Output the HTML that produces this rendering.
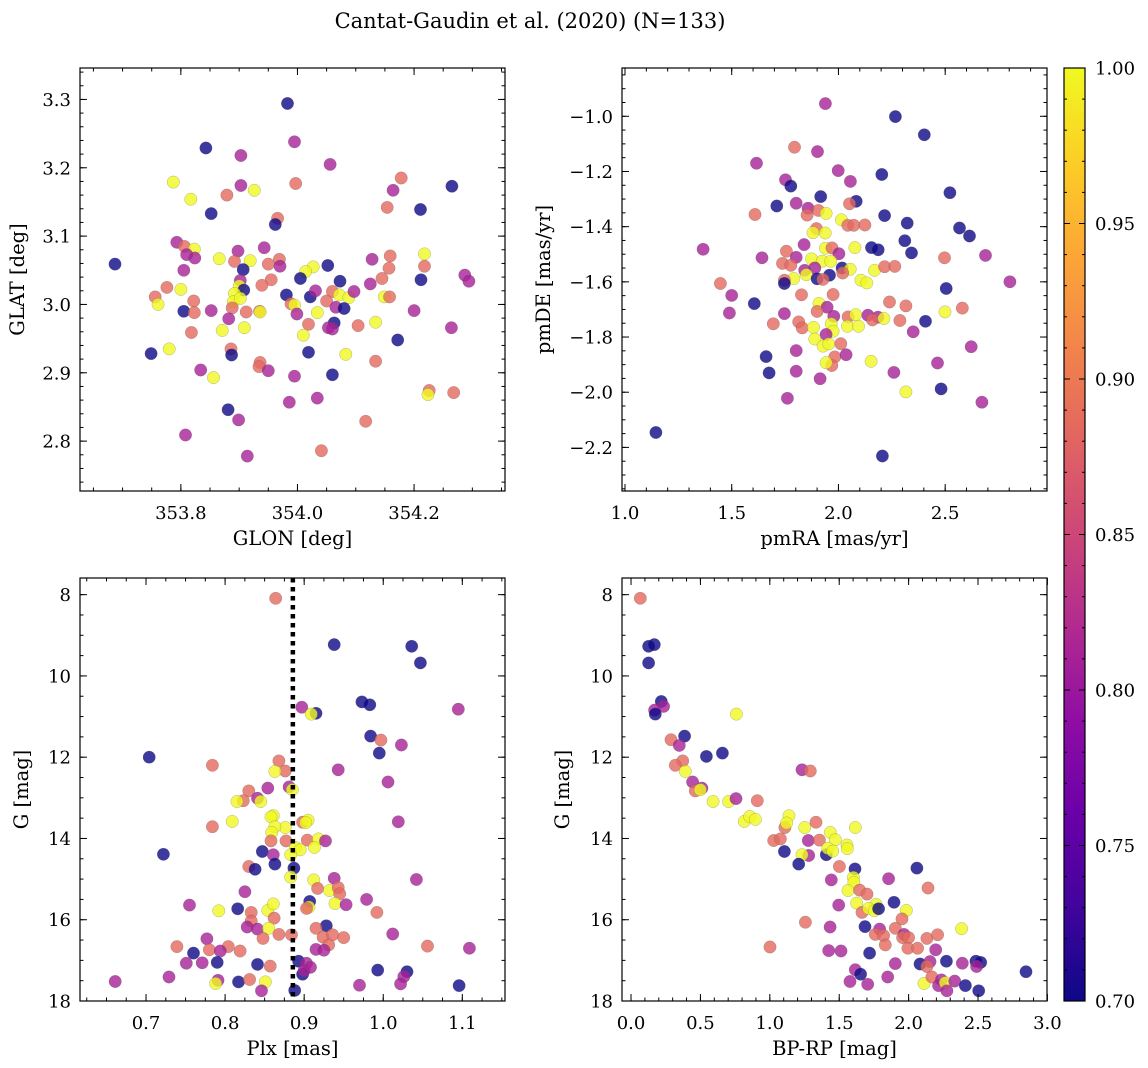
<!DOCTYPE html>
<html><head><meta charset="utf-8">
<style>
html,body{margin:0;padding:0;background:#fff;}
svg{display:block;font-family:"DejaVu Serif","Liberation Serif",serif;}
</style></head>
<body>
<svg id="fig" width="1148" height="1068" viewBox="0 0 1148 1068" xmlns="http://www.w3.org/2000/svg">
<text x="530" y="28" font-size="21" text-anchor="middle">Cantat-Gaudin et al. (2020) (N=133)</text>
<defs>
<linearGradient id="plasmaGrad" x1="0" y1="1" x2="0" y2="0">
<stop offset="0" stop-color="#0d0887"/><stop offset="0.1" stop-color="#41049d"/><stop offset="0.2" stop-color="#6a00a8"/><stop offset="0.3" stop-color="#8f0da4"/><stop offset="0.4" stop-color="#b12a90"/><stop offset="0.5" stop-color="#cc4778"/><stop offset="0.6" stop-color="#e16462"/><stop offset="0.7" stop-color="#f2844b"/><stop offset="0.8" stop-color="#fca636"/><stop offset="0.9" stop-color="#fcce25"/><stop offset="1" stop-color="#f0f921"/>
</linearGradient>
</defs>
</svg>
<script>
// ---- Panel 1: GLON / GLAT ----
const glon=[353.687,353.983,353.995,353.843,353.903,354.056,353.787,353.903,353.926,353.997,354.178,354.164,354.265,353.817,353.879,353.852,354.154,354.211,353.966,353.962,353.793,353.806,353.823,353.810,353.824,353.866,353.898,353.943,353.892,353.919,353.969,353.950,353.970,353.907,354.052,354.027,354.014,354.005,354.128,354.159,354.218,354.157,354.218,353.805,353.776,353.800,353.756,353.761,353.955,353.939,353.902,353.900,353.908,353.892,353.890,353.902,353.888,353.981,354.022,354.031,354.073,354.060,354.072,354.088,354.097,354.125,354.145,354.149,354.158,354.212,354.287,354.294,354.050,354.066,354.080,353.822,353.805,353.823,353.852,353.912,353.935,353.936,353.989,353.995,353.999,354.034,353.882,353.871,353.909,353.818,353.780,353.749,353.886,353.887,354.019,354.010,354.063,354.053,354.060,354.104,354.134,354.200,354.264,354.172,354.019,354.083,354.134,353.936,353.934,353.950,353.834,353.856,353.995,354.060,354.226,354.224,354.268,353.986,354.034,353.881,353.899,354.117,353.808,354.041,353.914];
const glat=[3.059,3.294,3.238,3.229,3.218,3.205,3.179,3.174,3.167,3.177,3.185,3.167,3.173,3.154,3.160,3.133,3.142,3.139,3.126,3.117,3.091,3.085,3.081,3.073,3.068,3.067,3.078,3.083,3.063,3.064,3.066,3.059,3.056,3.051,3.057,3.055,3.048,3.038,3.066,3.071,3.074,3.053,3.056,3.050,3.025,3.022,3.011,3.000,3.036,3.028,3.035,3.027,3.021,3.016,3.004,3.009,2.995,3.014,3.011,3.020,3.034,3.019,3.014,3.010,3.019,3.030,3.038,3.011,3.011,3.036,3.043,3.034,3.005,2.996,2.994,3.005,2.990,2.988,2.991,2.989,2.990,2.989,3.001,2.999,2.986,2.988,2.979,2.962,2.966,2.959,2.935,2.928,2.935,2.926,2.971,2.955,2.973,2.966,2.964,2.969,2.974,2.991,2.966,2.948,2.930,2.927,2.917,2.915,2.909,2.903,2.904,2.893,2.895,2.897,2.874,2.868,2.871,2.857,2.863,2.846,2.831,2.829,2.809,2.786,2.778];
const prob1=[0.70,0.70,0.81,0.70,0.81,0.81,1.00,0.81,1.00,0.885, 0.885,0.81,0.70,1.00,0.885,0.70,0.885,0.70,0.885,0.70, 0.81,0.885,1.00,0.81,0.81,1.00,0.81,0.81,0.885,1.00, 0.885,0.885,0.81,0.70,0.70,1.00,1.00,0.70,0.81,0.885, 1.00,0.885,0.885,0.81,0.885,1.00,0.885,1.00,0.885,0.885, 0.81,1.00,0.70,1.00,1.00,1.00,0.885,0.70,0.70,0.81, 0.70,0.885,1.00,1.00,0.81,0.81,0.885,1.00,0.885,0.70, 0.81,0.81,0.885,0.81,0.70,0.885,0.70,0.885,0.81,0.885, 0.885,1.00,0.885,1.00,0.81,1.00,0.81,1.00,1.00,0.885, 1.00,0.70,0.885,0.70,0.885,1.00,0.70,0.81,0.81,0.885, 1.00,0.81,0.81,0.70,0.70,1.00,0.885,0.885,0.885,0.81, 0.81,1.00,0.81,0.70,0.885,1.00,0.885,0.81,0.81,0.70, 0.81,0.885,0.81,0.885,0.81];
// ---- Panel 2: pmRA / pmDE ----
const pmra=[1.939,2.267,2.402,1.794,1.902,1.616,1.999,2.203,1.752,1.777,2.056,2.522,1.917,1.711,1.802,2.083,2.052,1.858,1.906,1.942,1.853,1.609,2.216,2.014,2.044,2.072,2.124,2.322,2.567,2.614,1.897,1.881,1.938,2.311,1.839,1.939,1.970,2.077,2.155,2.186,2.342,1.366,1.642,1.756,1.802,2.002,2.497,2.689,1.874,1.924,1.964,1.738,1.777,1.889,1.842,2.017,2.055,2.169,2.216,2.264,1.850,1.958,1.791,1.747,1.747,1.900,1.927,2.020,2.105,2.133,1.447,2.803,2.505,1.827,1.975,1.500,1.606,1.909,1.947,1.900,2.239,2.316,2.499,2.580,1.489,1.747,1.978,2.045,2.081,2.138,2.185,2.159,2.213,2.288,2.408,1.814,1.695,1.830,1.883,1.966,1.975,2.042,2.094,2.350,1.942,1.889,1.928,1.955,2.011,2.622,1.802,1.661,1.983,2.036,1.969,1.942,2.153,2.464,1.675,1.802,2.260,1.914,2.481,2.316,1.761,2.672,1.145,2.206];
const pmde=[-0.954,-1.001,-1.067,-1.112,-1.128,-1.170,-1.197,-1.211,-1.230,-1.253,-1.236,-1.277,-1.291,-1.325,-1.315,-1.308,-1.317,-1.333,-1.341,-1.352,-1.358,-1.356,-1.360,-1.375,-1.395,-1.395,-1.394,-1.387,-1.405,-1.434,-1.407,-1.422,-1.423,-1.451,-1.465,-1.478,-1.477,-1.476,-1.476,-1.484,-1.495,-1.482,-1.513,-1.489,-1.511,-1.498,-1.513,-1.504,-1.517,-1.525,-1.525,-1.533,-1.540,-1.550,-1.558,-1.550,-1.554,-1.558,-1.545,-1.544,-1.574,-1.576,-1.588,-1.594,-1.606,-1.589,-1.591,-1.568,-1.594,-1.604,-1.606,-1.600,-1.624,-1.647,-1.646,-1.649,-1.679,-1.678,-1.692,-1.707,-1.673,-1.687,-1.709,-1.695,-1.713,-1.715,-1.725,-1.727,-1.719,-1.721,-1.728,-1.738,-1.733,-1.740,-1.743,-1.745,-1.752,-1.767,-1.765,-1.752,-1.779,-1.761,-1.761,-1.781,-1.791,-1.807,-1.833,-1.825,-1.824,-1.835,-1.849,-1.871,-1.872,-1.864,-1.903,-1.893,-1.888,-1.894,-1.930,-1.924,-1.928,-1.951,-1.988,-1.999,-2.022,-2.036,-2.146,-2.231];
const prob2=[0.81,0.70,0.70,0.885,0.81,0.81,0.81,0.70,0.81,0.70, 0.81,0.70,0.70,0.70,0.81,0.70,0.885,0.81,0.885,1.00, 0.885,0.885,0.70,1.00,0.885,0.885,0.885,0.70,0.70,0.70, 0.885,1.00,1.00,0.70,0.81,1.00,0.885,1.00,0.70,0.70, 0.70,0.81,0.81,0.885,0.81,0.81,0.885,0.81,1.00,1.00, 1.00,0.885,0.885,0.81,0.81,0.70,1.00,1.00,0.885,0.885, 1.00,0.70,1.00,0.885,0.70,0.70,0.885,0.885,1.00,1.00, 0.885,0.81,0.70,0.885,0.885,0.81,0.70,1.00,0.81,0.885, 0.885,0.885,1.00,0.885,0.81,0.81,0.81,0.885,1.00,0.81, 0.81,0.885,1.00,0.885,0.70,0.885,0.885,0.885,1.00,1.00, 1.00,1.00,1.00,0.81,0.81,1.00,1.00,1.00,0.885,0.81, 0.81,0.70,0.885,0.81,0.885,1.00,1.00,0.81,0.70,0.81, 0.81,0.81,0.70,1.00,0.81,0.81,0.70,0.70];
// ---- Panel 3: Plx / G ----
const plx=[0.864,0.938,1.036,1.047,0.973,0.983,0.897,0.915,0.909,1.095,0.984,0.997,1.023,0.995,0.704,0.784,0.868,0.876,0.863,0.943,1.006,0.854,0.881,0.885,0.830,0.823,0.815,0.841,0.845,0.861,0.858,0.809,0.784,0.876,0.898,0.905,0.902,1.019,0.863,0.859,0.858,0.877,0.904,0.918,0.927,0.889,0.895,0.913,0.883,0.847,0.861,0.722,0.863,0.830,0.838,0.887,0.883,0.938,0.912,1.042,0.917,0.932,0.943,0.945,0.825,0.979,0.755,0.907,0.906,0.903,0.939,0.953,0.992,0.792,0.816,0.854,0.862,0.861,0.833,0.833,0.928,0.915,0.828,0.841,0.855,0.868,0.884,0.848,0.924,0.936,0.950,0.931,1.012,0.777,0.739,0.804,0.780,0.794,0.819,0.915,0.925,1.056,1.109,0.760,0.751,0.771,0.790,0.841,0.857,0.893,0.903,0.908,0.898,0.900,0.993,1.030,1.026,0.661,0.729,0.791,0.788,0.817,0.831,0.851,0.846,0.888,0.970,1.022,1.096];
const gmag3=[8.09,9.23,9.27,9.68,10.64,10.71,10.77,10.92,10.94,10.82,11.48,11.58,11.70,11.90,12.00,12.20,12.09,12.34,12.35,12.31,12.61,12.76,12.73,12.80,12.83,13.07,13.09,13.01,13.09,13.44,13.47,13.58,13.71,13.73,13.60,13.55,13.61,13.59,13.71,13.85,14.06,14.06,14.04,14.01,14.06,14.22,14.28,14.22,14.40,14.32,14.40,14.39,14.63,14.69,14.76,14.73,14.95,14.98,15.02,15.01,15.23,15.28,15.21,15.36,15.31,15.50,15.64,15.55,15.69,15.72,15.60,15.63,15.82,15.78,15.73,15.77,15.96,15.61,15.82,16.03,16.15,16.21,16.18,16.23,16.21,16.36,16.37,16.46,16.43,16.37,16.44,16.62,16.35,16.47,16.66,16.66,16.74,16.77,16.77,16.73,16.75,16.65,16.70,16.82,17.07,17.06,17.05,17.10,17.14,17.02,17.07,17.17,17.34,17.25,17.24,17.28,17.40,17.52,17.41,17.49,17.57,17.53,17.47,17.53,17.75,17.74,17.61,17.58,17.62];
const prob3=[0.885,0.70,0.70,0.70,0.70,0.70,0.81,0.70,1.00,0.81, 0.70,0.885,0.81,0.70,0.70,0.885,0.885,0.885,1.00,0.81, 0.81,0.81,0.81,1.00,0.885,0.885,1.00,0.81,1.00,1.00, 1.00,1.00,0.885,1.00,0.885,1.00,1.00,0.81,1.00,1.00, 0.885,0.885,0.885,1.00,0.81,1.00,1.00,1.00,1.00,0.70, 0.81,0.70,0.70,0.885,0.70,0.70,1.00,0.81,1.00,0.81, 0.885,1.00,0.885,0.885,0.81,0.81,0.81,0.70,1.00,0.885, 1.00,0.81,0.885,1.00,0.70,1.00,0.885,1.00,0.885,0.885, 0.70,0.885,0.81,0.81,1.00,0.885,0.885,0.885,0.885,0.885, 0.885,0.885,0.81,0.81,0.885,0.885,0.885,0.81,0.885,0.81, 0.81,0.885,0.81,0.70,0.81,0.81,0.70,0.70,0.885,0.70, 0.81,0.81,0.70,0.81,0.70,0.70,0.81,0.81,0.81,0.81, 1.00,0.70,0.885,1.00,0.81,0.70,0.81,0.81,0.70];
// ---- Panel 4: BP-RP / G ----
const bprp=[0.067,0.127,0.168,0.127,0.218,0.235,0.170,0.175,0.759,0.386,0.288,0.348,0.543,0.658,0.372,0.319,0.391,0.444,1.232,1.292,0.511,0.463,0.499,0.591,0.703,0.756,0.910,0.816,0.855,0.896,1.138,1.109,1.121,1.251,1.333,1.616,1.436,1.472,1.028,1.076,1.277,1.357,1.407,1.417,1.453,1.556,1.558,1.105,1.280,1.232,1.208,1.501,1.614,2.060,1.443,1.602,1.606,1.856,2.140,1.563,1.647,1.700,1.496,1.626,1.664,1.765,1.712,1.753,1.784,1.895,1.983,1.952,1.256,1.434,1.686,1.791,1.904,1.760,1.820,1.967,1.957,2.000,2.132,2.209,2.382,1.832,1.001,1.424,1.513,1.719,1.995,2.065,2.195,1.904,2.082,2.154,2.132,2.272,2.387,2.485,2.519,2.490,2.846,1.616,1.654,1.578,1.705,1.849,2.111,2.168,2.236,2.216,2.264,2.276,2.332,2.409,2.505];
const gmag4=[8.09,9.27,9.23,9.68,10.63,10.75,10.84,10.94,10.94,11.48,11.57,11.71,11.98,11.90,12.09,12.20,12.35,12.61,12.31,12.34,12.76,12.83,12.80,13.09,13.09,13.02,13.07,13.58,13.46,13.53,13.44,13.73,13.62,13.73,13.60,13.73,13.85,14.03,14.05,14.01,14.05,14.04,14.40,14.24,14.31,14.16,14.25,14.32,14.42,14.40,14.63,14.69,14.75,14.73,15.02,14.96,15.08,14.99,15.22,15.28,15.27,15.37,15.64,15.59,15.82,15.62,15.72,15.78,15.73,15.57,15.77,15.98,16.06,16.18,16.17,16.23,16.21,16.36,16.39,16.36,16.44,16.44,16.46,16.37,16.22,16.62,16.67,16.76,16.77,16.82,16.70,16.70,16.74,17.08,17.09,17.03,17.15,17.02,17.07,17.02,17.05,17.15,17.28,17.23,17.34,17.52,17.59,17.41,17.57,17.41,17.48,17.62,17.55,17.75,17.51,17.62,17.75];
const prob4=[0.885,0.70,0.70,0.70,0.70,0.81,0.81,0.70,1.00,0.70, 0.885,0.81,0.70,0.70,0.885,0.885,1.00,0.81,0.81,0.885, 0.81,0.885,1.00,1.00,1.00,0.81,0.885,1.00,1.00,1.00, 1.00,0.885,1.00,1.00,0.885,1.00,1.00,1.00,0.885,0.885, 0.81,0.885,0.70,1.00,1.00,1.00,1.00,0.70,0.81,1.00, 0.70,0.885,0.70,0.70,0.81,1.00,1.00,0.81,0.885,1.00, 0.885,0.885,0.81,1.00,0.885,1.00,1.00,1.00,0.70,0.70, 1.00,0.885,0.885,0.81,0.70,0.81,0.885,0.885,0.885,0.81, 0.885,0.885,0.885,0.885,1.00,0.885,0.885,0.81,0.81,0.70, 0.885,0.885,0.81,0.81,0.70,0.81,0.885,0.70,0.81,0.70, 0.70,0.81,0.70,0.81,0.70,0.81,0.81,0.81,1.00,0.885, 0.81,0.81,1.00,0.81,0.81,0.70,0.70];
const plxCut=[0.8857];
const cbarTicks=[0.70,0.75,0.80,0.85,0.90,0.95,1.00];

const NS="http://www.w3.org/2000/svg";
const svg=document.getElementById('fig');
const stops=[[13,8,135],[65,4,157],[106,0,168],[143,13,164],[177,42,144],[204,71,120],[225,100,98],[242,132,75],[252,166,54],[252,206,37],[240,249,33]];
function cmap(p){let t=Math.max(0,Math.min(1,(p-0.7)/0.3))*10;let i=Math.min(9,Math.floor(t));let f=t-i;
 const a=stops[i],b=stops[i+1];return 'rgb('+a.map((v,k)=>Math.round(v+(b[k]-v)*f)).join(',')+')';}
function mk(tag,attrs,parent){const e=document.createElementNS(NS,tag);for(const k in attrs)e.setAttribute(k,attrs[k]);(parent||svg).appendChild(e);return e;}
function fmt(v,d){const s=Math.abs(v).toFixed(d);return (v<-1e-9?'\u2212':'')+s;}

function panel(cfg){
 const g=mk('g',{});
 
 
 const sx=v=>cfg.x0+(v-cfg.xmin)/(cfg.xmax-cfg.xmin)*cfg.w;
 const sy=cfg.yinv?(v=>cfg.y0+(v-cfg.ymin)/(cfg.ymax-cfg.ymin)*cfg.h):(v=>cfg.y0+cfg.h-(v-cfg.ymin)/(cfg.ymax-cfg.ymin)*cfg.h);
 const lo=Math.min(cfg.ymin,cfg.ymax),hi=Math.max(cfg.ymin,cfg.ymax);
 const pts=mk('g',{},g);
 
 
 for(let i=0;i<cfg.xs.length;i++){
  const c=mk('circle',{cx:sx(cfg.xs[i]).toFixed(1),cy:sy(cfg.ys[i]).toFixed(1),r:6.2,fill:cmap(cfg.cs[i]),'fill-opacity':0.8,stroke:'#555','stroke-width':0.35,'stroke-opacity':0.6},pts);
  
  
 }
 if(cfg.extra)cfg.extra(g,sx,sy);
 const fr=mk('rect',{x:cfg.x0,y:cfg.y0,width:cfg.w,height:cfg.h,fill:'none',stroke:'#000','stroke-width':1.2},g);
 
 
 const tk=mk('g',{stroke:'#000','stroke-width':1},g);
 
 
 const B=cfg.y0+cfg.h,R=cfg.x0+cfg.w;
 for(let v=Math.ceil(cfg.xmin/cfg.xminor-1e-6)*cfg.xminor;v<=cfg.xmax+1e-9;v+=cfg.xminor){const x=sx(v);
  mk('line',{x1:x,y1:B,x2:x,y2:B-3.5},tk);mk('line',{x1:x,y1:cfg.y0,x2:x,y2:cfg.y0+3.5},tk);}
 for(let v=Math.ceil(lo/cfg.yminor-1e-6)*cfg.yminor;v<=hi+1e-9;v+=cfg.yminor){const y=sy(v);
  mk('line',{x1:cfg.x0,y1:y,x2:cfg.x0+3.5,y2:y},tk);mk('line',{x1:R,y1:y,x2:R-3.5,y2:y},tk);}
 cfg.xt.forEach(v=>{const x=sx(v);
  mk('line',{x1:x,y1:B,x2:x,y2:B-7},tk);mk('line',{x1:x,y1:cfg.y0,x2:x,y2:cfg.y0+7},tk);
  const t=mk('text',{x:x,y:B+28,'font-size':18,'text-anchor':'middle'},g);t.textContent=fmt(v,cfg.xd);
  
  });
 cfg.yt.forEach(v=>{const y=sy(v);
  mk('line',{x1:cfg.x0,y1:y,x2:cfg.x0+7,y2:y},tk);mk('line',{x1:R,y1:y,x2:R-7,y2:y},tk);
  const t=mk('text',{x:cfg.x0-9,y:y+6.5,'font-size':18,'text-anchor':'end'},g);t.textContent=fmt(v,cfg.yd);
  
  });
 const xl=mk('text',{x:cfg.x0+cfg.w/2,y:B+54,'font-size':19.5,'text-anchor':'middle'},g);xl.textContent=cfg.xlabel;
 
 
 const yx=cfg.ylx,yc=cfg.y0+cfg.h/2;
 const yl=mk('text',{x:yx,y:yc,'font-size':19.5,'text-anchor':'middle',transform:'rotate(-90 '+yx+' '+yc+')'},g);yl.textContent=cfg.ylabel;
 
 
}
function range(a,b,s){const r=[];for(let v=a;v<=b+1e-9;v+=s)r.push(Math.round(v*1000)/1000);return r;}

panel({name:'glon-glat-panel',x0:80,y0:68,w:425,h:423,xmin:353.627,xmax:354.356,ymin:2.727,ymax:3.346,xs:glon,ys:glat,cs:prob1,
 xt:[353.8,354.0,354.2],xd:1,xminor:0.05,yt:range(2.8,3.3,0.1),yd:1,yminor:0.02,xlabel:'GLON [deg]',ylabel:'GLAT [deg]',ylx:24});
panel({name:'proper-motion-panel',x0:622,y0:68,w:425,h:423,xmin:0.986,xmax:2.977,ymin:-2.358,ymax:-0.825,xs:pmra,ys:pmde,cs:prob2,
 xt:[1.0,1.5,2.0,2.5],xd:1,xminor:0.1,yt:range(-2.2,-1.0,0.2),yd:1,yminor:0.05,xlabel:'pmRA [mas/yr]',ylabel:'pmDE [mas/yr]',ylx:550});
panel({name:'parallax-panel',x0:80,y0:578,w:425,h:423,xmin:0.6165,xmax:1.154,ymin:7.59,ymax:18,yinv:true,xs:plx,ys:gmag3,cs:prob3,
 xt:range(0.7,1.1,0.1),xd:1,xminor:0.025,yt:range(8,18,2),yd:0,yminor:0.5,xlabel:'Plx [mas]',ylabel:'G [mag]',ylx:28,
 extra:(g,sx,sy)=>{plxCut.forEach(v=>{const l=mk('line',{x1:sx(v),x2:sx(v),y1:578,y2:1001,stroke:'#000','stroke-width':4.5,'stroke-dasharray':'4.5,4.5'},g);
  
  });}});
panel({name:'cmd-panel',x0:622,y0:578,w:425,h:423,xmin:-0.065,xmax:2.997,ymin:7.59,ymax:18,yinv:true,xs:bprp,ys:gmag4,cs:prob4,
 xt:range(0,3,0.5),xd:1,xminor:0.1,yt:range(8,18,2),yd:0,yminor:0.5,xlabel:'BP-RP [mag]',ylabel:'G [mag]',ylx:569});

(function(){
 const x0=1064,y0=68,w=21,h=933;
 const g=mk('g',{});
 
 
 mk('rect',{x:x0,y:y0,width:w,height:h,fill:'url(#plasmaGrad)',stroke:'#000','stroke-width':1.2},g);
 const sy=v=>y0+h-(v-0.7)/0.3*h;
 for(let v=0.70;v<=1.0001;v+=0.01){const y=sy(v);mk('line',{x1:x0+w,x2:x0+w-3,y1:y,y2:y,stroke:'#000','stroke-width':1},g);mk('line',{x1:x0,x2:x0+3,y1:y,y2:y,stroke:'#000','stroke-width':1},g);}
 cbarTicks.forEach(v=>{const y=sy(v);
  mk('line',{x1:x0+w,x2:x0+w-6,y1:y,y2:y,stroke:'#000','stroke-width':1},g);
  mk('line',{x1:x0,x2:x0+6,y1:y,y2:y,stroke:'#000','stroke-width':1},g);
  const t=mk('text',{x:x0+w+10,y:y+6.5,'font-size':18},g);t.textContent=v.toFixed(2);
  
  });
})();
</script>
</body></html>
